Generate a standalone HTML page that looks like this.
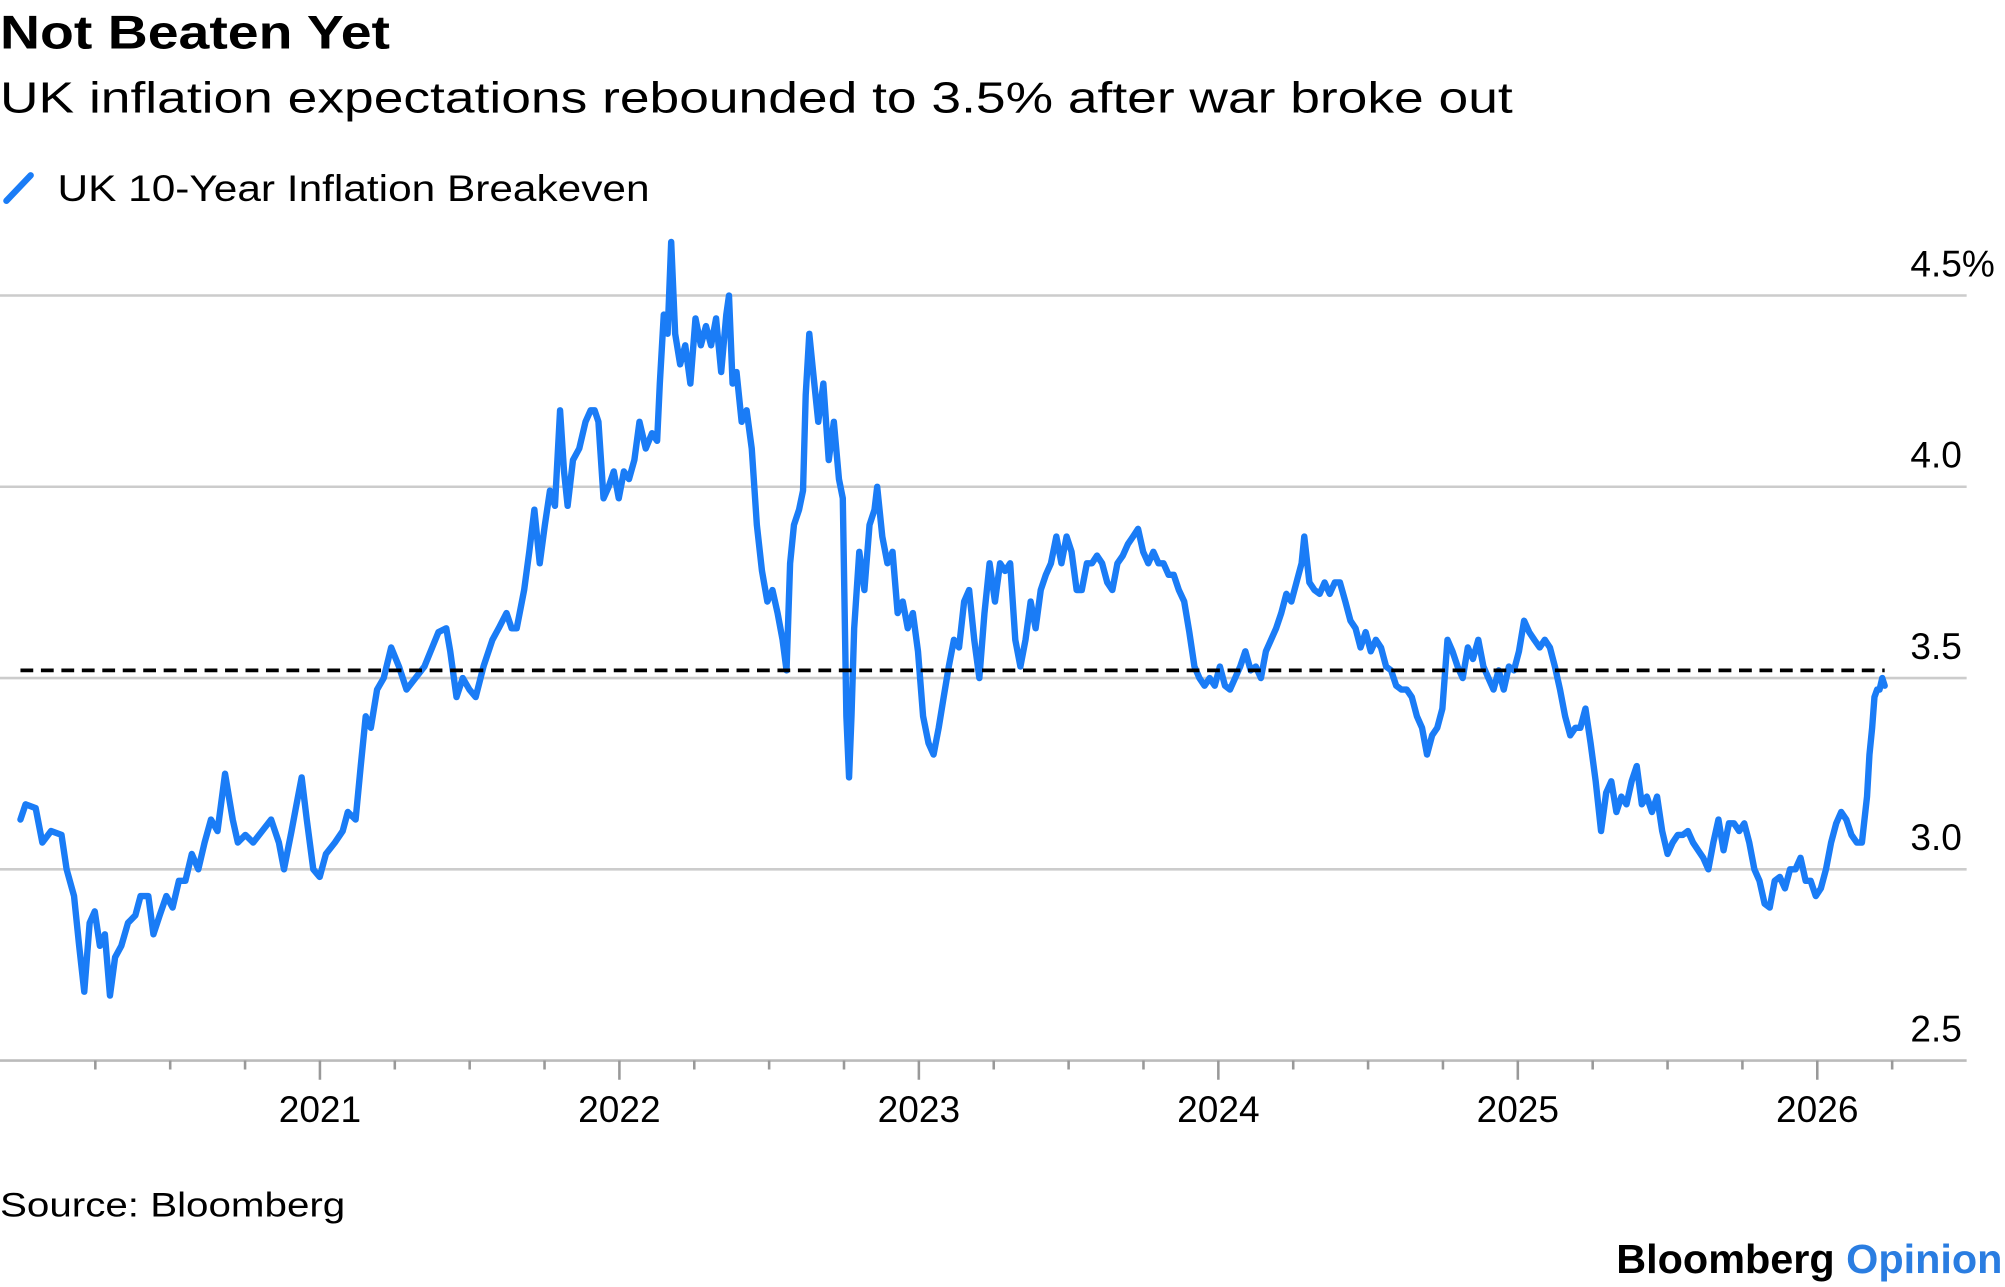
<!DOCTYPE html>
<html><head><meta charset="utf-8"><style>
html,body{margin:0;padding:0;background:#fff;}
svg{display:block;}
text{font-family:"Liberation Sans",sans-serif;}
</style></head><body>
<svg id="chart" width="2005" height="1287" viewBox="0 0 1568 1006" preserveAspectRatio="none" xmlns="http://www.w3.org/2000/svg">
<text x="0" y="38" font-size="37" font-weight="bold" fill="#000" textLength="305" lengthAdjust="spacingAndGlyphs">Not Beaten Yet</text>
<text x="0" y="88" font-size="34" fill="#000" textLength="1183" lengthAdjust="spacingAndGlyphs">UK inflation expectations rebounded to 3.5% after war broke out</text>
<line x1="5" y1="157" x2="24" y2="137" stroke="#1a7cf6" stroke-width="5" stroke-linecap="round"/>
<text x="45" y="157" font-size="29" fill="#000" textLength="463" lengthAdjust="spacingAndGlyphs">UK 10-Year Inflation Breakeven</text>
<g id="grid"></g>
<g id="yaxis"></g>
<g id="xaxis"></g>
<g id="plot"></g>
<text x="0" y="951" font-size="27" fill="#000" textLength="270" lengthAdjust="spacingAndGlyphs">Source: Bloomberg</text>
<text x="1264" y="995" font-size="32" font-weight="bold" fill="#000" textLength="302" lengthAdjust="spacingAndGlyphs"><tspan>Bloomberg </tspan><tspan fill="#2a7de1">Opinion</tspan></text>
</svg>
<script>
const yTicks=[2.5,3.0,3.5,4.0,4.5];
const yTickLabels=["2.5","3.0","3.5","4.0","4.5%"];
const xYears=[2021,2022,2023,2024,2025,2026];
const refValue=3.52;
const dates=[2020.00,2020.017,2020.051,2020.073,2020.102,2020.137,2020.154,2020.179,2020.196,2020.213,2020.231,2020.248,2020.265,2020.282,2020.299,2020.316,2020.337,2020.359,2020.384,2020.401,2020.427,2020.444,2020.465,2020.487,2020.508,2020.529,2020.551,2020.572,2020.594,2020.615,2020.636,2020.658,2020.683,2020.709,2020.726,2020.751,2020.777,2020.807,2020.837,2020.863,2020.880,2020.905,2020.922,2020.939,2020.956,2020.978,2020.999,
2021.020,2021.050,2021.076,2021.093,2021.119,2021.136,2021.153,2021.170,2021.191,2021.213,2021.238,2021.264,2021.289,2021.319,2021.349,2021.375,2021.396,2021.422,2021.435,2021.456,2021.477,2021.499,2021.520,2021.546,2021.576,2021.597,2021.623,2021.640,2021.657,2021.682,2021.699,2021.716,2021.734,2021.751,2021.768,2021.785,2021.802,2021.815,2021.827,2021.845,2021.866,2021.887,2021.904,2021.917,2021.930,2021.947,2021.964,2021.981,2021.998,
2022.015,2022.032,2022.050,2022.067,2022.088,2022.109,2022.126,2022.135,2022.148,2022.161,2022.173,2022.186,2022.203,2022.220,2022.237,2022.254,2022.272,2022.289,2022.306,2022.323,2022.340,2022.357,2022.366,2022.378,2022.391,2022.408,2022.425,2022.442,2022.459,2022.476,2022.494,2022.511,2022.528,2022.545,2022.558,2022.570,2022.583,2022.600,2022.613,2022.622,2022.634,2022.647,2022.664,2022.681,2022.699,2022.716,2022.733,2022.746,2022.758,2022.767,2022.775,2022.784,2022.801,2022.818,2022.835,2022.852,2022.861,2022.878,2022.895,2022.912,2022.929,2022.946,2022.963,2022.980,2022.997,
2023.014,2023.032,2023.049,2023.066,2023.083,2023.100,2023.117,2023.134,2023.151,2023.168,2023.185,2023.202,2023.219,2023.236,2023.254,2023.271,2023.288,2023.305,2023.322,2023.339,2023.356,2023.373,2023.390,2023.407,2023.424,2023.441,2023.459,2023.476,2023.493,2023.510,2023.527,2023.544,2023.561,2023.578,2023.595,2023.612,2023.629,2023.646,2023.663,2023.681,2023.698,2023.715,2023.732,2023.749,2023.766,2023.783,2023.800,2023.817,2023.834,2023.851,2023.868,2023.886,2023.903,2023.920,2023.937,2023.954,2023.971,2023.988,
2024.005,2024.022,2024.039,2024.056,2024.073,2024.090,2024.108,2024.125,2024.142,2024.159,2024.176,2024.193,2024.210,2024.227,2024.244,2024.261,2024.278,2024.287,2024.304,2024.321,2024.338,2024.355,2024.372,2024.389,2024.406,2024.424,2024.441,2024.458,2024.475,2024.492,2024.509,2024.526,2024.543,2024.560,2024.577,2024.594,2024.611,2024.629,2024.646,2024.663,2024.680,2024.697,2024.714,2024.731,2024.748,2024.765,2024.782,2024.799,2024.816,2024.833,2024.850,2024.868,2024.885,2024.902,2024.919,2024.936,2024.953,2024.970,2024.987,
2025.004,2025.021,2025.038,2025.055,2025.073,2025.090,2025.107,2025.124,2025.141,2025.158,2025.175,2025.192,2025.209,2025.226,2025.243,2025.260,2025.278,2025.295,2025.312,2025.329,2025.346,2025.363,2025.380,2025.397,2025.414,2025.431,2025.448,2025.465,2025.482,2025.500,2025.517,2025.534,2025.551,2025.568,2025.585,2025.602,2025.619,2025.636,2025.653,2025.670,2025.687,2025.705,2025.722,2025.739,2025.756,2025.773,2025.790,2025.807,2025.824,2025.841,2025.858,2025.875,2025.892,2025.909,2025.927,2025.944,2025.961,2025.978,2025.995,
2026.012,2026.029,2026.046,2026.063,2026.080,2026.097,2026.114,2026.132,2026.149,2026.166,2026.174,2026.183,2026.191,2026.200,2026.208,2026.217,2026.225];
const values=[3.13,3.17,3.16,3.07,3.10,3.09,3.00,2.93,2.80,2.68,2.86,2.89,2.80,2.83,2.67,2.77,2.80,2.86,2.88,2.93,2.93,2.83,2.88,2.93,2.90,2.97,2.97,3.04,3.00,3.07,3.13,3.10,3.25,3.13,3.07,3.09,3.07,3.10,3.13,3.07,3.00,3.10,3.17,3.24,3.13,3.00,2.98,
3.04,3.07,3.10,3.15,3.13,3.27,3.40,3.37,3.47,3.50,3.58,3.53,3.47,3.50,3.53,3.58,3.62,3.63,3.57,3.45,3.50,3.47,3.45,3.53,3.60,3.63,3.67,3.63,3.63,3.73,3.83,3.94,3.80,3.90,3.99,3.95,4.20,4.04,3.95,4.07,4.10,4.17,4.20,4.20,4.17,3.97,4.00,4.04,3.97,
4.04,4.02,4.07,4.17,4.10,4.14,4.12,4.27,4.45,4.40,4.64,4.40,4.32,4.37,4.27,4.44,4.37,4.42,4.37,4.44,4.30,4.45,4.50,4.27,4.30,4.17,4.20,4.10,3.90,3.78,3.70,3.73,3.67,3.60,3.52,3.80,3.90,3.94,3.99,4.24,4.40,4.30,4.17,4.27,4.07,4.17,4.02,3.97,3.40,3.24,3.40,3.63,3.83,3.73,3.90,3.94,4.00,3.87,3.80,3.83,3.67,3.70,3.63,3.67,3.57,
3.40,3.33,3.30,3.37,3.45,3.53,3.60,3.58,3.70,3.73,3.60,3.50,3.67,3.80,3.70,3.80,3.78,3.80,3.60,3.53,3.60,3.70,3.63,3.73,3.77,3.80,3.87,3.80,3.87,3.83,3.73,3.73,3.80,3.80,3.82,3.80,3.75,3.73,3.80,3.82,3.85,3.87,3.89,3.83,3.80,3.83,3.80,3.80,3.77,3.77,3.73,3.70,3.62,3.53,3.50,3.48,3.50,3.48,
3.53,3.48,3.47,3.50,3.53,3.57,3.52,3.53,3.50,3.57,3.60,3.63,3.67,3.72,3.70,3.75,3.80,3.87,3.75,3.73,3.72,3.75,3.72,3.75,3.75,3.70,3.65,3.63,3.58,3.62,3.57,3.60,3.58,3.53,3.52,3.48,3.47,3.47,3.45,3.40,3.37,3.30,3.35,3.37,3.42,3.60,3.57,3.53,3.50,3.58,3.55,3.60,3.53,3.50,3.47,3.52,3.47,3.53,3.52,
3.57,3.65,3.62,3.60,3.58,3.60,3.58,3.53,3.47,3.40,3.35,3.37,3.37,3.42,3.33,3.23,3.10,3.20,3.23,3.15,3.19,3.17,3.23,3.27,3.17,3.19,3.15,3.19,3.10,3.04,3.07,3.09,3.09,3.10,3.07,3.05,3.03,3.00,3.07,3.13,3.05,3.12,3.12,3.10,3.12,3.07,3.00,2.97,2.91,2.90,2.97,2.98,2.95,3.00,3.00,3.03,2.97,2.97,2.93,
2.95,3.00,3.07,3.12,3.15,3.13,3.09,3.07,3.07,3.19,3.30,3.37,3.45,3.47,3.47,3.50,3.48];

const NS="http://www.w3.org/2000/svg";
const X0=0,X1=1538,PX_PER_YEAR=234.2,ORIGIN=16;
function xScale(t){return ORIGIN+(t-2020)*PX_PER_YEAR;}
function yScale(v){return 829-(v-2.5)*299;}
function mk(tag,attrs,parent){const e=document.createElementNS(NS,tag);for(const k in attrs)e.setAttribute(k,attrs[k]);parent.appendChild(e);return e;}
const grid=document.getElementById('grid'),yax=document.getElementById('yaxis'),xax=document.getElementById('xaxis'),plot=document.getElementById('plot');
yTicks.forEach((v,i)=>{
  const l=mk('line',{x1:X0,x2:X1,y1:yScale(v),y2:yScale(v),stroke:i===0?'#bbb':'#ccc','stroke-width':2},grid);
  
  
  const t=mk('text',{x:1494,y:yScale(v)-15,'font-size':29,fill:'#000'},yax);
  t.textContent=yTickLabels[i];
  
  
});
for(let q=1;q<26;q++){
  const t=2020+q*0.25;
  const major=q%4===0;
  const l=mk('line',{x1:xScale(t),x2:xScale(t),y1:829,y2:major?844:836,stroke:'#999','stroke-width':2},xax);
  
  
}
xYears.forEach(yr=>{
  const t=mk('text',{x:xScale(yr),y:877,'font-size':29,'text-anchor':'middle',fill:'#000'},xax);
  t.textContent=String(yr);
  
  
});
let d='';
dates.forEach((t,i)=>{d+=(i?'L':'M')+xScale(t).toFixed(1)+' '+yScale(values[i]).toFixed(1);});
const ln=mk('path',{d:d,fill:'none',stroke:'#1a7cf6','stroke-width':5,'stroke-linejoin':'round','stroke-linecap':'round'},plot);


const ref=mk('line',{x1:xScale(dates[0]),x2:xScale(dates[dates.length-1]),y1:yScale(refValue),y2:yScale(refValue),stroke:'#000','stroke-width':3,'stroke-dasharray':'10 6'},plot);


</script>
</body></html>
